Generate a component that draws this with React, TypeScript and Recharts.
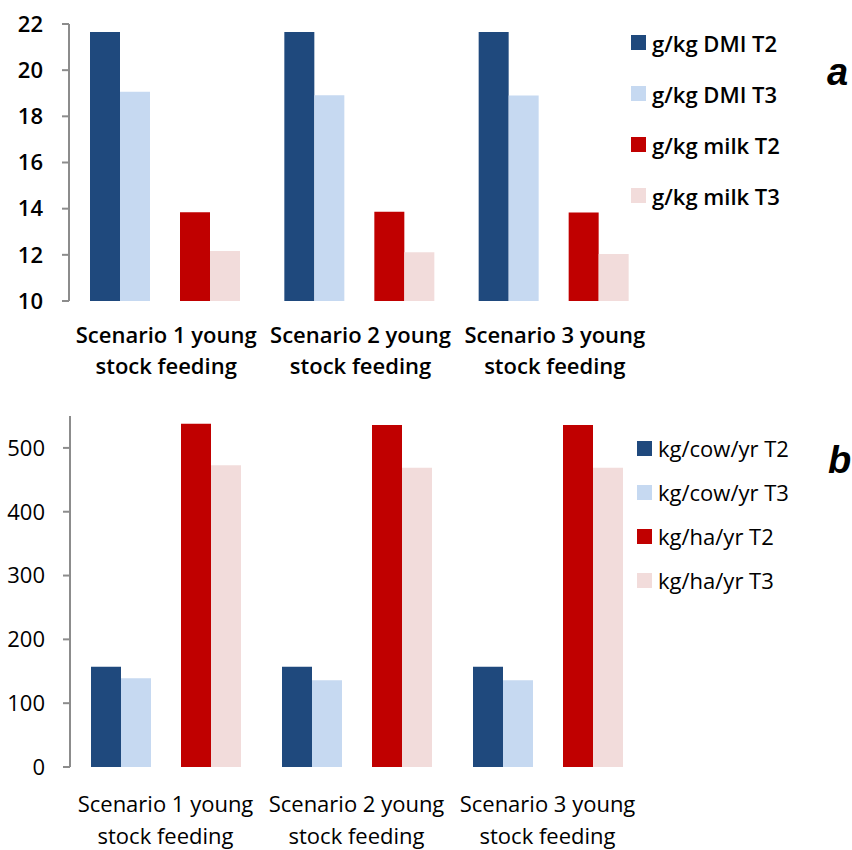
import { BarChart, Bar, XAxis, YAxis, Legend } from 'recharts'

const categories = [
  'Scenario 1 young stock feeding',
  'Scenario 2 young stock feeding',
  'Scenario 3 young stock feeding',
]

// panel a, g/kg
const dmiT2 = [21.65, 21.65, 21.65]
const dmiT3 = [19.07, 18.91, 18.9]
const milkT2 = [13.84, 13.87, 13.83]
const milkT3 = [12.17, 12.11, 12.04]
const ticksA = [10, 12, 14, 16, 18, 20, 22]

// panel b, kg
const cowT2 = [157, 157, 157]
const cowT3 = [139, 136, 136]
const haT2 = [538, 536, 536]
const haT3 = [473, 469, 469]
const ticksB = [0, 100, 200, 300, 400, 500]

const edgeTicks = [0, 1, 2, 3]

const C = {
  darkBlue: '#1f497d',
  lightBlue: '#c6d9f1',
  red: '#c00000',
  pink: '#f2dcdb',
  axis: '#8c8c8c',
}

const FONT = '"Open Sans", sans-serif'

const dataA = categories.map((name, i) => ({
  name,
  dmiT2: dmiT2[i],
  dmiT3: dmiT3[i],
  milkT2: milkT2[i],
  milkT3: milkT3[i],
}))

const dataB = categories.map((name, i) => ({
  name,
  cowT2: cowT2[i],
  cowT3: cowT3[i],
  haT2: haT2[i],
  haT3: haT3[i],
}))

function splitLabel(s: string): [string, string] {
  const words = s.split(' ')
  return [words.slice(0, 3).join(' '), words.slice(3).join(' ')]
}

function makeCategoryTick(first: number, second: number, weight: number, size: number) {
  return (props: any) => {
    const { x, y, payload } = props
    const [l1, l2] = splitLabel(payload.value)
    return (
      <text textAnchor="middle" fontFamily={FONT} fontSize={size} fontWeight={weight} fill="#000">
        <tspan x={x} y={y + first}>{l1}</tspan>
        <tspan x={x} y={y + second}>{l2}</tspan>
      </text>
    )
  }
}

function makeLegend(rowHeight: number, weight: number, gap: number) {
  return (props: any) => {
    const items = (props.payload || []).filter((p: any) => p.type !== 'none')
    return (
      <div style={{ fontFamily: FONT, fontSize: 22, fontWeight: weight, color: '#000' }}>
        {items.map((p: any) => (
          <div key={p.value} style={{ display: 'flex', alignItems: 'center', height: rowHeight, whiteSpace: 'nowrap' }}>
            <span style={{ display: 'inline-block', width: 15, height: 15, background: p.color, marginRight: gap }} />
            <span>{p.value}</span>
          </div>
        ))}
      </div>
    )
  }
}

const axisLine = { stroke: C.axis, strokeWidth: 2 }

export default function App() {
  return (
    <div style={{ position: 'absolute', left: 0, top: 0, width: 852, height: 850, background: '#fff', overflow: 'hidden' }}>
      <div style={{ position: 'absolute', left: 0, top: 0 }}>
        <BarChart
          width={852}
          height={390}
          data={dataA}
          margin={{ top: 24, right: 200, left: 9, bottom: 0 }}
          barCategoryGap={21}
          barGap={0}
        >
          <XAxis
            xAxisId="edge"
            type="number"
            domain={[0, 3]}
            ticks={edgeTicks}
            height={0}
            tickSize={9}
            axisLine={axisLine}
            tickLine={axisLine}
            tickFormatter={() => ''}
          />
          <XAxis
            dataKey="name"
            height={89}
            axisLine={false}
            tickLine={false}
            tickSize={0}
            tickMargin={0}
            interval={0}
            tick={makeCategoryTick(42, 73, 600, 22)}
          />
          <YAxis
            width={60}
            domain={[10, 22]}
            ticks={ticksA}
            allowDataOverflow
            axisLine={axisLine}
            tickLine={axisLine}
            tickSize={7}
            tickMargin={19}
            tick={{ fontFamily: FONT, fontSize: 22, fontWeight: 600, fill: '#000' }}
          />
          <Legend
            layout="vertical"
            align="center"
            verticalAlign="middle"
            wrapperStyle={{ left: 631, top: 17, width: 210 }}
            content={makeLegend(51, 600, 6)}
          />
          <Bar dataKey="dmiT2" name="g/kg DMI T2" fill={C.darkBlue} isAnimationActive={false} />
          <Bar dataKey="dmiT3" name="g/kg DMI T3" fill={C.lightBlue} isAnimationActive={false} />
          <Bar dataKey="gap" legendType="none" fill="none" isAnimationActive={false} />
          <Bar dataKey="milkT2" name="g/kg milk T2" fill={C.red} isAnimationActive={false} />
          <Bar dataKey="milkT3" name="g/kg milk T3" fill={C.pink} isAnimationActive={false} />
        </BarChart>
      </div>
      <div style={{ position: 'absolute', left: 0, top: 390 }}>
        <BarChart
          width={852}
          height={460}
          data={dataB}
          margin={{ top: 26, right: 209, left: 10, bottom: 0 }}
          barCategoryGap={21}
          barGap={0}
        >
          <XAxis
            xAxisId="edge"
            type="number"
            domain={[0, 3]}
            ticks={edgeTicks}
            height={0}
            tickSize={9}
            axisLine={axisLine}
            tickLine={axisLine}
            tickFormatter={() => ''}
          />
          <XAxis
            dataKey="name"
            height={83}
            axisLine={false}
            tickLine={false}
            tickSize={0}
            tickMargin={0}
            interval={0}
            tick={makeCategoryTick(45, 77, 400, 22)}
          />
          <YAxis
            width={60}
            domain={[0, 550]}
            ticks={ticksB}
            allowDataOverflow
            axisLine={axisLine}
            tickLine={axisLine}
            tickSize={7}
            tickMargin={18}
            tick={{ fontFamily: FONT, fontSize: 22, fontWeight: 400, fill: '#000' }}
          />
          <Legend
            layout="vertical"
            align="center"
            verticalAlign="middle"
            wrapperStyle={{ left: 637, top: 36, width: 210 }}
            content={makeLegend(44, 400, 6)}
          />
          <Bar dataKey="cowT2" name="kg/cow/yr T2" fill={C.darkBlue} isAnimationActive={false} />
          <Bar dataKey="cowT3" name="kg/cow/yr T3" fill={C.lightBlue} isAnimationActive={false} />
          <Bar dataKey="gap" legendType="none" fill="none" isAnimationActive={false} />
          <Bar dataKey="haT2" name="kg/ha/yr T2" fill={C.red} isAnimationActive={false} />
          <Bar dataKey="haT3" name="kg/ha/yr T3" fill={C.pink} isAnimationActive={false} />
        </BarChart>
      </div>
      <div style={{ position: 'absolute', left: 827, top: 52, fontFamily: '"Liberation Sans", Arial, sans-serif', fontSize: 38, fontWeight: 700, fontStyle: 'italic', lineHeight: '40px' }}>
        a
      </div>
      <div style={{ position: 'absolute', left: 828, top: 440, fontFamily: '"Liberation Sans", Arial, sans-serif', fontSize: 38, fontWeight: 700, fontStyle: 'italic', lineHeight: '40px' }}>
        b
      </div>
    </div>
  )
}
